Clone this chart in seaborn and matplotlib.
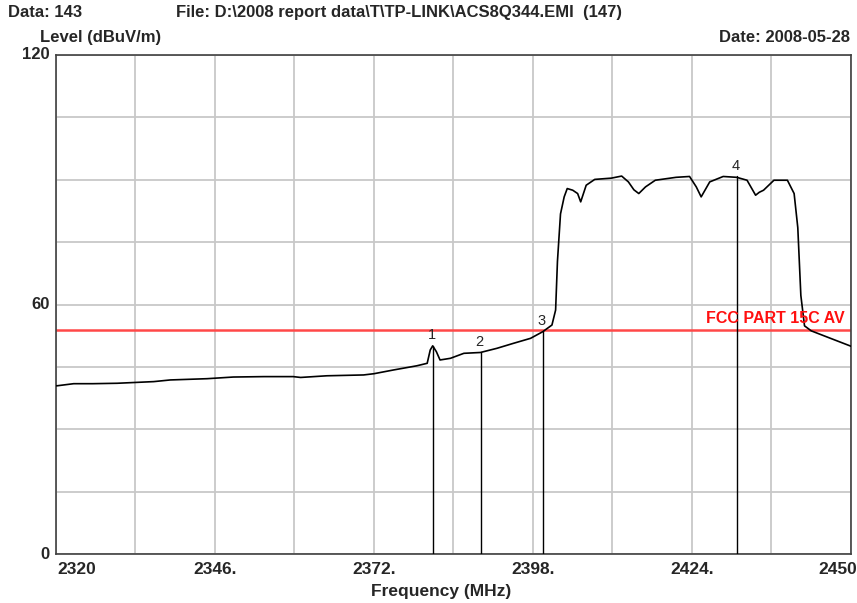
import matplotlib
matplotlib.use('Agg')
import matplotlib.pyplot as plt
import seaborn as sns
import pandas as pd

# spectrum trace
freq = [2320.0, 2320.2, 2322.9, 2326.0, 2330.0, 2336.0, 2338.7, 2344.7, 2349.0,
        2354.0, 2358.8, 2360.0, 2364.3, 2370.3, 2372.0, 2375.2, 2379.0, 2380.7,
        2381.2, 2381.6, 2382.2, 2382.8, 2384.5, 2386.7, 2389.4, 2392.1, 2394.8,
        2397.6, 2399.6, 2401.1, 2401.7, 2402.0, 2402.5, 2403.1, 2403.6, 2404.5,
        2405.3, 2405.8, 2406.7, 2408.1, 2410.8, 2412.5, 2413.6, 2414.5, 2415.3,
        2416.4, 2418.0, 2421.4, 2423.6, 2424.7, 2425.5, 2426.9, 2429.1, 2431.3,
        2433.0, 2434.4, 2435.0, 2435.7, 2437.4, 2439.6, 2440.7, 2441.3, 2441.8,
        2442.4, 2443.5, 2446.3, 2450.0]
level = [40.5, 40.5, 41.0, 41.0, 41.1, 41.5, 41.9, 42.2, 42.6,
         42.7, 42.7, 42.5, 42.9, 43.1, 43.4, 44.3, 45.3, 45.9,
         49.1, 50.1, 48.7, 46.7, 47.1, 48.3, 48.5, 49.5, 50.7,
         51.9, 53.5, 55.1, 58.7, 70.4, 81.8, 85.9, 87.9, 87.5,
         86.7, 84.7, 88.7, 90.1, 90.4, 90.9, 89.5, 87.6, 86.7,
         88.3, 89.9, 90.6, 90.8, 88.3, 85.9, 89.5, 90.8, 90.6,
         89.9, 86.3, 87.0, 87.5, 89.9, 89.9, 86.7, 78.5, 62.2,
         54.9, 53.7, 52.1, 50.0]

marker_id = ['1', '2', '3', '4']
marker_freq = [2381.6, 2389.5, 2399.6, 2431.4]
marker_level = [50.1, 48.5, 53.6, 90.8]

limit_level = 54
limit_name = 'FCC PART 15C AV'

x_ticks = [2320, 2346, 2372, 2398, 2424, 2450]
x_labels = ['2320', '2346.', '2372.', '2398.', '2424.', '2450']
y_ticks = [0, 60, 120]

trace = pd.DataFrame({'freq': freq, 'level': level})

sns.set_theme(style='white')
plt.rcParams['font.family'] = ['Liberation Sans Narrow', 'Liberation Sans', 'DejaVu Sans']

fig = plt.figure(figsize=(8.57, 6.03), dpi=100)
ax = fig.add_axes([0.0653, 0.0808, 0.9277, 0.8280])

# grid: 10 x 8 divisions
for f in range(2320, 2451, 13):
    ax.axvline(f, color='#c8c8c8', lw=1.3, zorder=0)
for l in range(0, 121, 15):
    ax.axhline(l, color='#c8c8c8', lw=1.3, zorder=0)

sns.lineplot(data=trace, x='freq', y='level', color='black', lw=1.2, ax=ax, zorder=3)

ax.axhline(limit_level, color='#ff4848', lw=1.8, zorder=2)
ax.text(2449, limit_level + 0.8, limit_name, color='#ff1010', fontweight='bold',
        fontsize=11.5, ha='right', va='bottom', zorder=4)

for m, f, l in zip(marker_id, marker_freq, marker_level):
    ax.plot([f, f], [0, l], color='black', lw=1.0, zorder=3)
    ax.text(f - 0.2, l + 2.5, m, fontsize=10.5, ha='center', va='center',
            family=['Liberation Sans', 'DejaVu Sans'])

ax.set_xlim(2320, 2450)
ax.set_ylim(0, 120)
ax.set_xticks([])
ax.set_yticks([])
ax.set_xlabel('')
ax.set_ylabel('')
for s in ax.spines.values():
    s.set_color('#404040')
    s.set_linewidth(1.2)

# axis labels in the style of the EMI software
for t in y_ticks:
    ax.text(-0.008, t / 120, str(t), transform=ax.transAxes, ha='right', va='center',
            fontsize=12, fontweight='bold', family=['Liberation Sans', 'DejaVu Sans'])
for i, (t, lab) in enumerate(zip(x_ticks, x_labels)):
    xa = (t - 2320) / 130
    ha = 'left' if i == 0 else 'center'
    if i == len(x_ticks) - 1:
        ha, xa = 'left', xa - 0.041
    ax.text(xa + (0.002 if i == 0 else 0), -0.016, lab, transform=ax.transAxes,
            ha=ha, va='top', fontsize=12.5, fontweight='bold')

fig.text(0.515, 0.006, 'Frequency (MHz)', ha='center', va='bottom', fontsize=12.5, fontweight='bold')
fig.text(0.047, 0.938, 'Level (dBuV/m)', ha='left', va='center', fontsize=12, fontweight='bold')
fig.text(0.992, 0.938, 'Date: 2008-05-28', ha='right', va='center', fontsize=12, fontweight='bold')
fig.text(0.009, 0.979, 'Data: 143', ha='left', va='center', fontsize=12, fontweight='bold')
fig.text(0.205, 0.979, 'File: D:\\2008 report data\\T\\TP-LINK\\ACS8Q344.EMI  (147)',
         ha='left', va='center', fontsize=12, fontweight='bold')

fig.savefig('out.png', dpi=100)
